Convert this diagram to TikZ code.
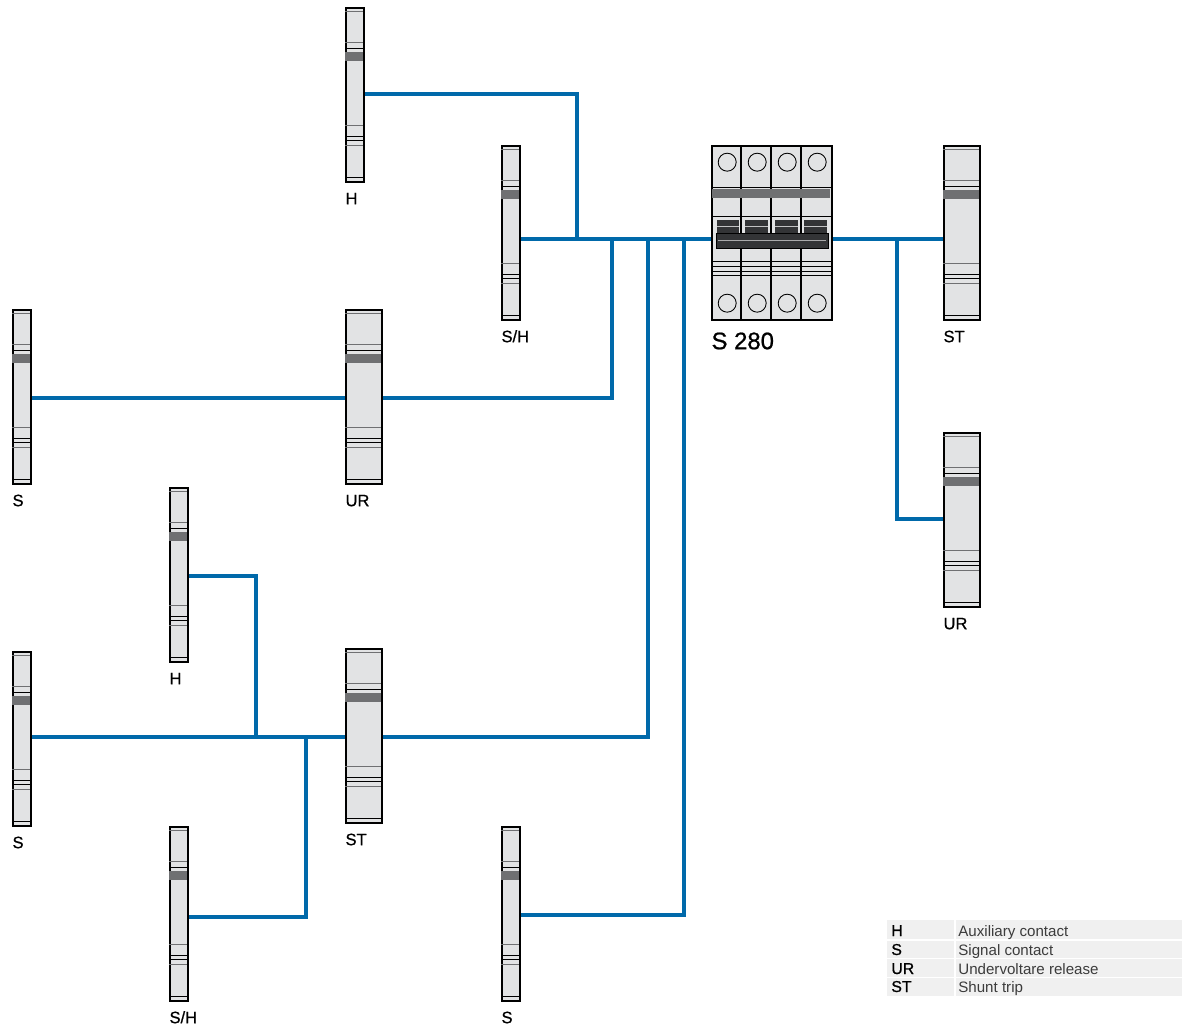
\documentclass[tikz,border=0pt]{standalone}
\usepackage{fontspec}
\setmainfont{Liberation Sans}
\newfontfamily\medfont[FakeBold=0.8]{Liberation Sans}
\usetikzlibrary{positioning}
\definecolor{linkblue}{HTML}{0069AA}
\definecolor{modgray}{HTML}{E2E3E4}
\definecolor{bandgray}{HTML}{6F7072}
\definecolor{levergray}{HTML}{333436}
\definecolor{rowgray}{HTML}{F0F0F0}
\definecolor{txtgray}{HTML}{3C3C3C}
\tikzset{
  every picture/.style={line join=miter, line cap=butt},
  modbox/.style={draw=black, fill=modgray, line width=1pt, inner sep=0pt, anchor=north west},
  modline/.style={line width=0.5pt},
  modgrey/.style={line width=0.7pt, draw=bandgray},
  band/.style={fill=bandgray},
  link/.style={draw=linkblue, line width=2.6pt},
  tag/.style={anchor=base west, inner sep=0pt, font=\medfont\fontsize{9.4}{9.4}\selectfont},
  rowbox/.style={fill=rowgray, draw=none},
  keytxt/.style={anchor=base west, inner sep=0pt, font=\medfont\fontsize{9}{9}\selectfont, text=black},
  valtxt/.style={anchor=base west, inner sep=0pt, font=\fontsize{8.6}{9}\selectfont, text=txtgray},
}
\begin{document}
\begin{tikzpicture}[x=0.02cm,y=-0.02cm]
\useasboundingbox (0,0) rectangle (1186,1026);
\begin{scope}[shift={(-0.8,-0.8)}]
% side modules
\foreach \nm/\x/\y/\w/\lab in {h1/346/8/18/H, sh1/502/146/18/S\slash H, s1/13/310/18/S, ur1/346/310/36/UR,
    h2/170/488/18/H, s2/13/652/18/S, st1/346/649/36/ST, sh2/170/827/18/S\slash H, s3/502/827/18/S,
    st2/944/146/36/ST, ur2/944/433/36/UR}{
  \node[modbox,minimum width=\w*0.02cm,minimum height=3.48cm] (\nm) at (\x,\y) {};
  \fill[band] (\x,\y+45) rectangle (\x+\w,\y+54);
  \foreach \t in {41,129,133,170}{\draw[modline] (\x,\y+\t)--(\x+\w,\y+\t);}
  \foreach \t in {4,35,118,138}{\draw[modgrey] (\x,\y+\t)--(\x+\w,\y+\t);}
  \node[tag] (l\nm) at (\x,\y+197) {\lab};
}
% S 280
\node[modbox,minimum width=2.4cm,minimum height=3.48cm] (s280) at (712,146) {};
\foreach \t in {188,217,262,267,272,276}{\draw[modline] (712,\t)--(832,\t);}
\foreach \t in {742,772,802}{\draw[line width=0.9pt] (\t,146)--(\t,320);}
\fill[band] (713,190) rectangle (831,199);
\foreach \c/\n in {728/1,758/2,788/3,818/4}{
  \draw[line width=0.5pt] (\c,163) circle(0.18cm);
  \draw[line width=0.5pt] (\c,304) circle(0.18cm);
}
\foreach \a/\b in {718/740,746/769,776/799,805/828}{
  \fill[levergray] (\a,221) rectangle (\b,235);
  \draw[white!70!levergray,line width=0.4pt] (\a,227)--(\b,227);
}
\filldraw[fill=levergray,draw=black,line width=0.5pt] (717,234) rectangle (829,249);
\draw[bandgray!60!white,line width=0.6pt] (719,241)--(827,241);
\node[anchor=base west,inner sep=0pt,font=\medfont\fontsize{13.6}{14}\selectfont] (ls280) at (712,350) {S 280};
\end{scope}
% connectors
\coordinate (ja) at (577,239);
\coordinate (jb) at (612,239);
\coordinate (jc) at (648,239);
\coordinate (jd) at (684,239);
\coordinate (je) at (897,239);
\coordinate (jf) at (256,737);
\coordinate (jg) at (306,737);
\draw[link] (sh1.east |- ja)--(s280.west |- ja);
\draw[link] (s280.east |- je)--(st2.west |- je);
\draw[link] (h1.east |- 0,94)-|(ja);
\draw[link] (s1.east |- 0,398)--(ur1.west |- 0,398);
\draw[link] (ur1.east |- 0,398)-|(jb);
\draw[link] (h2.east |- 0,576)-|(jf);
\draw[link] (s2.east |- jf)--(st1.west |- jf);
\draw[link] (st1.east |- jf)-|(jc);
\draw[link] (sh2.east |- 0,917)-|(jg);
\draw[link] (s3.east |- 0,915)-|(jd);
\draw[link] (je)|-(ur2.west |- 0,519);
% legend
\foreach \ya/\yb/\base/\k/\v in {920/939/936/H/Auxiliary contact, 941/958/955/S/Signal contact,
    959/977/974/UR/Undervoltare release, 978/996/992/ST/Shunt trip}{
  \fill[rowbox] (887,\ya) rectangle (954,\yb);
  \fill[rowbox] (956,\ya) rectangle (1182,\yb);
  \node[keytxt] (k\k) at (891,\base) {\k};
  \node[valtxt] (v\k) at (958,\base) {\v};
}
\end{tikzpicture}
\end{document}
